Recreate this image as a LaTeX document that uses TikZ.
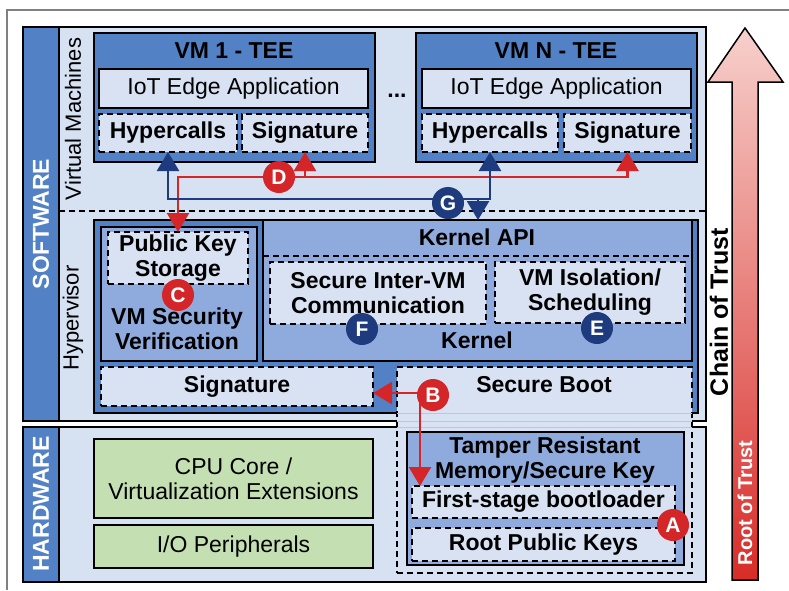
\documentclass[tikz,border=0pt]{standalone}
\usepackage{fontspec}
\setmainfont{Liberation Sans}
\usetikzlibrary{arrows.meta}
\definecolor{bgl}{RGB}{214,225,242}
\definecolor{boxl}{RGB}{216,226,243}
\definecolor{vmblue}{RGB}{82,130,197}
\definecolor{midblue}{RGB}{143,171,221}
\definecolor{greenbox}{RGB}{196,224,178}
\definecolor{redc}{RGB}{212,38,40}
\definecolor{navy}{RGB}{30,60,125}
\definecolor{pinktop}{RGB}{247,208,204}
\definecolor{redbot}{RGB}{216,44,40}
\tikzset{bigtip/.tip={Triangle[length=19pt,width=22pt]}}
\newcommand\mybox[7]{\node[#1, minimum width={#5pt-#3pt}, minimum height={#6pt-#4pt}] (#2) at ({(#3+#5)/2},{(#4+#6)/2}) {#7};}
\begin{document}
\begin{tikzpicture}[x=1pt,y=-1pt,
  every node/.style={inner sep=0pt, outer sep=0pt, align=center, font=\fontsize{23}{25}\selectfont},
  solidbox/.style={draw=black, line width=1.8pt},
  dbox/.style={draw=black, line width=1.8pt, dash pattern=on 6pt off 4pt, fill=boxl, font=\fontsize{23}{25}\selectfont\bfseries},
  band/.style={draw=black, line width=1.5pt, fill=vmblue},
  bandtxt/.style={rotate=90, text=white, font=\fontsize{23}{25}\selectfont\bfseries},
  sidetxt/.style={rotate=90, font=\fontsize{22}{24}\selectfont},
  btxt/.style={font=\fontsize{23}{25}\selectfont\bfseries},
  badge/.style={circle, minimum size=32pt, text=white, font=\fontsize{21}{21}\selectfont\bfseries},
  redbadge/.style={badge, fill=redc},
  bluebadge/.style={badge, fill=navy},
  redline/.style={draw=redc, line width=2.6pt},
  blueline/.style={draw=navy, line width=2.6pt}
]
\useasboundingbox (0,0) rectangle (789,590);
% outer frame
\draw[gray, line width=1.5pt] (7,590) -- (7,10) -- (789,10);
% software / hardware
\mybox{solidbox, fill=bgl}{sw}{23}{27}{706}{421}{}
\mybox{band}{swband}{23}{27}{59}{421}{}
\node[bandtxt] (swlbl) at (41,224) {SOFTWARE};
\mybox{solidbox, fill=bgl}{hw}{23}{427}{706}{582}{}
\mybox{band}{hwband}{23}{427}{59}{582}{}
\node[bandtxt] (hwlbl) at (41,504) {HARDWARE};
\node[sidetxt] (vmlbl) at (73,119) {Virtual Machines};
\node[sidetxt] (hvlbl) at (73,318) {Hypervisor};
\draw[line width=1.8pt, dash pattern=on 6pt off 4pt] (59,211) -- (706,211);
% VM 1
\mybox{solidbox, fill=vmblue}{vm1}{94}{33}{375}{162}{}
\node[btxt] (vm1t) at (234,51) {VM 1 - TEE};
\mybox{solidbox, fill=boxl}{iot1}{99}{69}{368}{108}{IoT Edge Application}
\mybox{dbox}{hyp1}{99}{114}{237}{152}{Hypercalls}
\mybox{dbox}{sig1}{242}{114}{368}{152}{Signature}
% VM N
\mybox{solidbox, fill=vmblue}{vmn}{416}{33}{697}{162}{}
\node[btxt] (vmnt) at (556,51) {VM N - TEE};
\mybox{solidbox, fill=boxl}{iotn}{422}{69}{691}{108}{IoT Edge Application}
\mybox{dbox}{hypn}{422}{114}{558}{152}{Hypercalls}
\mybox{dbox}{sign}{564}{114}{691}{152}{Signature}
\node[btxt] (dots) at (397,96) {...};
% Hypervisor
\mybox{solidbox, fill=vmblue}{hyp}{94}{220}{698}{413}{}
\mybox{solidbox, fill=midblue}{vmsec}{101}{227}{257}{361}{}
\node[btxt] (vmsect) at (177,329) {VM Security\\Verification};
\mybox{dbox}{pks}{108}{232}{248}{284}{Public Key\\Storage}
\mybox{solidbox, fill=midblue}{kern}{263}{220}{692}{361}{}
\node[btxt] (kapi) at (477,237) {Kernel API};
\draw[line width=1.8pt, dash pattern=on 6pt off 4pt] (kern.west |- 0,256) -- (kern.east |- 0,256);
\mybox{dbox}{sivc}{270}{262}{486}{324}{Secure Inter-VM\\Communication}
\mybox{dbox}{viso}{495}{262}{685}{323}{VM Isolation/\\Scheduling}
\node[btxt] (kernt) at (477,340) {Kernel};
\mybox{dbox}{sigh}{101}{367}{373}{406}{Signature}
% secure boot region
\mybox{dbox}{boot}{397}{367}{692}{573}{}
\draw[gray!45, line width=1pt] (397,413) -- (692,413);
\draw[gray!45, line width=1pt] (397,421) -- (692,421);
\draw[gray!45, line width=1pt] (397,427) -- (692,427);
\node[btxt] (sbt) at (544,385) {Secure Boot};
\mybox{solidbox, fill=midblue}{tamp}{407}{432}{684}{565}{}
\node[btxt] (tampt) at (545,460) {Tamper Resistant\\Memory/Secure Key};
\mybox{dbox}{fsb}{412}{486}{675}{518}{First-stage bootloader}
\mybox{dbox}{rpk}{412}{528}{675}{561}{Root Public Keys}
% hardware
\mybox{solidbox, fill=greenbox}{cpu}{94}{439}{373}{518}{CPU Core /\\Virtualization Extensions}
\mybox{solidbox, fill=greenbox}{io}{94}{525}{373}{568}{I/O Peripherals}
% connectors
\coordinate (gline) at (300,199);
\coordinate (gdown) at (478,199);
\coordinate (dline) at (300,177);
\coordinate (bline) at (420,393);
\draw[redline, bigtip-bigtip] (pks.north) |- (dline) -| (sign.south);
\draw[redline, -bigtip] (sig1.south |- dline) -- (sig1.south);
\draw[blueline, bigtip-bigtip] (hyp1.south) |- (gline) -| (hypn.south);
\draw[blueline, -bigtip] (gdown) -- (gdown |- kern.north);
\draw[redline, bigtip-bigtip] (bline -| sigh.east) -- (bline) -- (bline |- fsb.north);
% badges
\node[redbadge] (A) at (673,525) {A};
\node[redbadge] (B) at (433,395) {B};
\node[redbadge] (C) at (178,295) {C};
\node[redbadge] (D) at (279,177) {D};
\node[bluebadge] (E) at (597,328) {E};
\node[bluebadge] (F) at (362,329) {F};
\node[bluebadge] (G) at (448,203) {G};
% chain of trust arrow
\shadedraw[top color=pinktop, bottom color=redbot, draw=black, line width=1.5pt]
  (745,28) -- (783,82) -- (758,82) -- (758,580) -- (732,580) -- (732,82) -- (708,82) -- cycle;
\node[rotate=90, text=white, font=\fontsize{20}{20}\selectfont\bfseries] (rot) at (745,503) {Root of Trust};
\node[rotate=90, font=\fontsize{25}{25}\selectfont\bfseries] (cot) at (719,312) {Chain of Trust};
\end{tikzpicture}
\end{document}
